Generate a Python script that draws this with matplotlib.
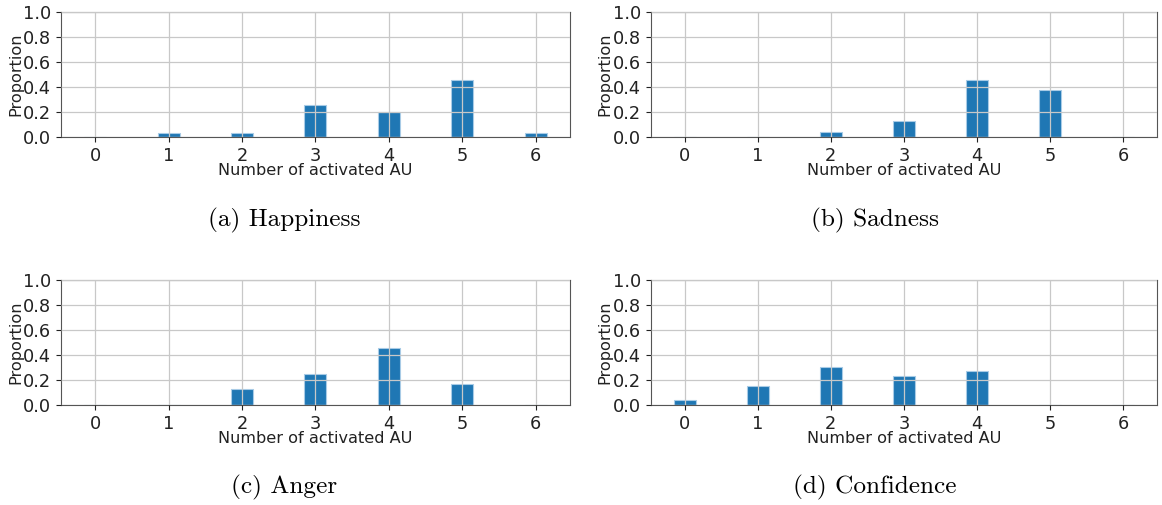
import matplotlib
matplotlib.use('Agg')
import matplotlib.pyplot as plt

au_counts = [0, 1, 2, 3, 4, 5, 6]
happiness = [0.0, 0.029, 0.029, 0.257, 0.2, 0.457, 0.029]
sadness = [0.0, 0.0, 0.042, 0.125, 0.458, 0.375, 0.0]
anger = [0.0, 0.0, 0.125, 0.25, 0.458, 0.167, 0.0]
confidence = [0.038, 0.154, 0.308, 0.231, 0.269, 0.0, 0.0]
captions = ['(a) Happiness', '(b) Sadness', '(c) Anger', '(d) Confidence']

fig = plt.figure(figsize=(11.62, 5.05), dpi=100)

# axes boxes in figure coords (left, bottom, width, height)
boxes = [
    [0.0525, 0.729, 0.438, 0.247],
    [0.560, 0.729, 0.4357, 0.247],
    [0.0525, 0.198, 0.438, 0.247],
    [0.560, 0.198, 0.4357, 0.247],
]
cap_x = [0.2444, 0.7530, 0.2444, 0.7530]
cap_y = [0.564, 0.564, 0.034, 0.034]
series = [happiness, sadness, anger, confidence]

for box, vals, cap, cx, cy in zip(boxes, series, captions, cap_x, cap_y):
    ax = fig.add_axes(box)
    ax.bar(au_counts, vals, width=0.3, color='#1f77b4', edgecolor='#a8cbe6', linewidth=0.8)
    ax.set_ylim(0, 1.0)
    ax.set_yticks([0, 0.2, 0.4, 0.6, 0.8, 1.0])
    ax.set_xticks(au_counts)
    ax.grid(True, color='#c8c8c8', linewidth=0.9)
    ax.set_axisbelow(False)
    ax.tick_params(labelsize=12.8, length=3.5, colors='#222222')
    ax.set_xlabel('Number of activated AU', fontsize=11.6, labelpad=-1, color='#222222')
    ax.set_ylabel('Proportion', fontsize=11.6, labelpad=0, color='#222222')
    for s in ax.spines.values():
        s.set_color('#555555')
    fig.text(cx, cy, cap, ha='center', va='center', fontsize=18.2, family='cmr10')

plt.savefig('out.png', dpi=100)
